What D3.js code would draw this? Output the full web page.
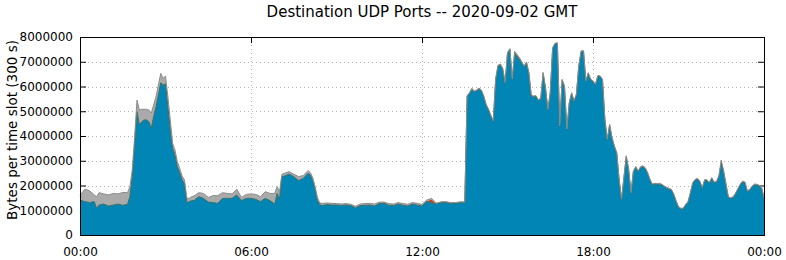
<!DOCTYPE html>
<html><head><meta charset="utf-8">
<script src="https://cdn.jsdelivr.net/npm/d3@7"></script>
<style>
body{margin:0;background:#fff}
svg{display:block}
text{font-family:"DejaVu Sans",sans-serif;fill:#000}
</style>
</head><body>
<svg id="chart" width="786" height="260"></svg>
<script>
// ---- data (values in millions of bytes per 300 s slot) ----
const times = [
 "00:00","00:10","00:20","00:30","00:35","00:40","00:50",
 "01:00","01:10","01:20","01:30","01:40","01:45","01:50","01:55",
 "02:00","02:05","02:10","02:15","02:20","02:25","02:30","02:35","02:40","02:45","02:50","02:55",
 "03:00","03:05","03:10","03:15","03:20","03:25","03:30","03:35","03:40","03:45","03:50","03:55",
 "04:00","04:10","04:20","04:30","04:40","04:50",
 "05:00","05:10","05:20","05:30","05:40","05:50",
 "06:00","06:10","06:20","06:30","06:40","06:50","06:55",
 "07:00","07:05","07:10","07:20","07:30","07:40","07:50",
 "08:00","08:05","08:10","08:15","08:20","08:25","08:30","08:40","08:50",
 "09:00","09:10","09:20","09:30","09:40","09:50",
 "10:00","10:10","10:20","10:30","10:40","10:50",
 "11:00","11:10","11:20","11:30","11:40","11:50",
 "12:00","12:10","12:20","12:30","12:40","12:50",
 "13:00","13:10","13:20","13:30","13:35","13:40","13:45","13:50","13:55",
 "14:00","14:05","14:10","14:15","14:20","14:25","14:30","14:35","14:40","14:45","14:50","14:55",
 "15:00","15:05","15:10","15:15","15:20","15:25","15:30","15:35","15:40","15:45","15:50","15:55",
 "16:00","16:05","16:10","16:15","16:20","16:25","16:30","16:35","16:40","16:45","16:50","16:55",
 "17:00","17:05","17:10","17:15","17:20","17:25","17:30","17:35","17:40","17:45","17:50","17:55",
 "18:00","18:05","18:10","18:15","18:20","18:25","18:30","18:35","18:40","18:45","18:50","18:55",
 "19:00","19:05","19:10","19:15","19:20","19:25","19:30","19:35","19:40","19:45","19:50","19:55",
 "20:00","20:05","20:10","20:15","20:20","20:25","20:30","20:35","20:40","20:45","20:50","20:55",
 "21:00","21:05","21:10","21:15","21:20","21:25","21:30","21:35","21:40","21:45","21:50","21:55",
 "22:00","22:05","22:10","22:15","22:20","22:25","22:30","22:35","22:40","22:45","22:50","22:55",
 "23:00","23:05","23:10","23:15","23:20","23:25","23:30","23:35","23:40","23:45","23:50","23:55",
 "24:00"
];
const mainPort = [
 1.41,1.35,1.31,1.35,1.08,1.21,1.25,
 1.17,1.21,1.25,1.20,1.24,1.55,2.36,3.70,
 4.98,4.44,4.58,4.65,4.65,4.58,4.31,4.78,5.18,5.66,6.15,6.06,
 6.10,5.18,4.24,3.50,3.23,2.76,2.52,2.22,2.09,1.31,1.35,1.39,
 1.39,1.55,1.48,1.33,1.31,1.28,
 1.48,1.48,1.48,1.62,1.39,1.48,
 1.48,1.44,1.35,1.48,1.39,1.25,1.68,
 1.45,2.35,2.38,2.46,2.36,2.20,2.29,
 2.49,2.42,2.20,1.85,1.40,1.22,1.19,1.23,1.21,
 1.21,1.20,1.21,1.19,1.10,1.19,
 1.20,1.21,1.17,1.27,1.28,1.20,
 1.19,1.25,1.20,1.17,1.25,1.21,
 1.17,1.36,1.30,1.25,1.31,1.31,
 1.28,1.27,1.31,1.30,5.60,5.72,5.89,5.79,5.83,
 5.91,5.82,5.59,5.25,5.05,4.81,4.58,6.26,6.83,6.88,6.69,6.13,
 7.34,7.50,6.26,7.34,7.21,7.10,6.96,6.80,6.96,6.53,5.62,5.59,
 5.59,5.43,5.50,6.53,5.93,5.05,5.72,7.54,7.72,7.74,4.38,6.26,
 5.99,4.24,5.32,5.72,5.39,5.66,6.80,7.41,7.41,6.20,6.53,6.26,
 6.20,6.06,6.40,6.40,6.26,4.65,3.84,4.44,3.91,3.57,3.30,2.22,
 1.41,2.29,3.17,2.63,1.68,2.56,2.73,2.56,2.73,2.76,2.69,2.49,
 2.22,2.02,2.06,2.05,2.05,2.02,1.95,1.89,1.85,1.82,1.62,1.35,
 1.12,1.05,1.05,1.21,1.32,1.68,2.09,2.22,2.25,2.15,1.89,2.20,
 2.20,2.09,2.29,2.11,2.13,2.36,2.92,2.56,2.02,1.51,1.48,1.51,
 1.66,1.85,2.02,2.15,2.11,1.75,1.82,1.95,2.02,2.02,1.98,1.89,
 1.48
];
const otherPorts = [
 .18,.50,.48,.27,.47,.50,.41,
 .45,.47,.41,.52,.47,.40,.27,.27,
 .47,.61,.50,.43,.43,.47,.61,.47,.41,.40,.38,.27,
 .32,.41,.41,.20,.20,.20,.17,.16,.13,.17,.13,.16,
 .19,.16,.20,.19,.28,.31,
 .23,.20,.18,.23,.13,.16,
 .18,.20,.20,.27,.29,.43,.27,
 .30,.10,.11,.10,.10,.16,.11,
 .11,.10,.12,.10,.10,.07,.09,.06,.07,
 .06,.05,.06,.05,.06,.06,
 .07,.07,.08,.06,.05,.07,
 .06,.06,.07,.07,.06,.07,
 .07,.05,.04,.04,.03,.04,
 .03,.04,.03,.04,.03,.03,.04,.03,.03,
 .03,.04,.03,.03,.04,.03,.03,.04,.03,.03,.04,.03,
 .03,.03,.04,.03,.03,.03,.04,.03,.03,.04,.03,.03,
 .04,.03,.03,.04,.03,.03,.04,.03,.03,.03,.04,.03,
 .03,.04,.03,.03,.04,.03,.03,.03,.04,.03,.03,.04,
 .03,.03,.04,.03,.03,.04,.03,.03,.04,.03,.03,.03,
 .04,.03,.03,.04,.03,.03,.04,.03,.03,.04,.03,.03,
 .03,.04,.03,.03,.04,.03,.03,.04,.03,.03,.04,.03,
 .03,.03,.04,.03,.03,.04,.03,.03,.04,.03,.03,.04,
 .03,.04,.03,.03,.04,.03,.03,.03,.04,.03,.03,.04,
 .03,.03,.04,.03,.03,.04,.03,.03,.04,.03,.03,.03,
 .03
];
const redSpikes = [["12:20",0.14],["15:15",0.05],["15:20",0.06],["15:25",0.04],["22:30",0.08]];
const yTickValues = [0,1000000,2000000,3000000,4000000,5000000,6000000,7000000,8000000];
const xTickMinutes = [0,360,720,1080,1440];
const xTickLabels = ["00:00","06:00","12:00","18:00","00:00"];
const titleText = "Destination UDP Ports -- 2020-09-02 GMT";
const yLabelText = "Bytes per time slot (300 s)";

// ---- build table ----
const toMin = s => { const [h,m] = s.split(":").map(Number); return h*60+m; };
const redMap = new Map(redSpikes.map(([t,v]) => [t,v]));
const table = times.map((t,i) => ({
  t: toMin(t),
  main: mainPort[i]*1e6,
  red: (redMap.get(t) || 0)*1e6,
  other: otherPorts[i]*1e6
}));

const L=80, R=764, T=37, B=235;
const svg = d3.select("#chart");
svg.append("rect").attr("width",786).attr("height",260).attr("fill","#fff");
const x = d3.scaleLinear().domain([0,1440]).range([L,R]);
const y = d3.scaleLinear().domain([0,8000000]).range([B,T]);

// grid
const grid = svg.append("g").attr("stroke","#b4b4b4").attr("stroke-dasharray","1,3").attr("shape-rendering","crispEdges");
grid.selectAll(".h").data(yTickValues.filter(v=>v>0 && v<8000000)).join("line")
  .attr("x1",L).attr("x2",R).attr("y1",d=>Math.round(y(d))+0.5).attr("y2",d=>Math.round(y(d))+0.5);
grid.selectAll(".v").data(xTickMinutes.filter(v=>v>0 && v<1440)).join("line")
  .attr("y1",T).attr("y2",B).attr("x1",d=>Math.round(x(d))+0.5).attr("x2",d=>Math.round(x(d))+0.5);

// axes (inward ticks, drawn behind the data)
const fmt = (d,i)=>xTickLabels[i];
const ax = svg.append("g").attr("transform",`translate(0,${B})`)
  .call(d3.axisBottom(x).tickValues(xTickMinutes).tickFormat(fmt).tickSizeInner(-6).tickSizeOuter(0).tickPadding(12));
const ay = svg.append("g").attr("transform",`translate(${L},0)`)
  .call(d3.axisLeft(y).tickValues(yTickValues).tickFormat(d3.format("d")).tickSizeInner(-6).tickSizeOuter(0).tickPadding(7));
const at = svg.append("g").attr("transform",`translate(0,${T})`)
  .call(d3.axisTop(x).tickValues(xTickMinutes).tickFormat("").tickSizeInner(-6).tickSizeOuter(0));
const ar = svg.append("g").attr("transform",`translate(${R},0)`)
  .call(d3.axisRight(y).tickValues(yTickValues).tickFormat("").tickSizeInner(-6).tickSizeOuter(0));
[ax,ay,at,ar].forEach(g=>{
  g.select(".domain").remove();
  g.selectAll(".tick line").attr("stroke","#000");
  g.selectAll("text").attr("font-family","DejaVu Sans").attr("font-size",12).attr("fill","#000");
});

// stacked areas
const keys = ["main","red","other"];
const colors = {main:"#0085b4", red:"#c0452a", other:"#aaaaaa"};
const edge = {main:"#3a6c66", red:"#a03a20", other:"#8c8c8c"};
const series = d3.stack().keys(keys)(table);
const area = d3.area().x(d=>x(d.data.t)).y0(d=>y(d[0])).y1(d=>y(d[1]));
const topLine = d3.line().x(d=>x(d.data.t)).y(d=>y(d[1]));
svg.append("g").selectAll("path").data(series).join("path")
  .attr("d",area).attr("fill",d=>colors[d.key]);
svg.append("g").selectAll("path").data(series.filter(s=>s.key!=="red")).join("path")
  .attr("d",topLine).attr("fill","none").attr("stroke",d=>edge[d.key]).attr("stroke-width",1);

// frame
svg.append("rect").attr("x",L+0.5).attr("y",T+0.5).attr("width",R-L).attr("height",B-T)
  .attr("fill","none").attr("stroke","#000").attr("stroke-width",1).attr("shape-rendering","crispEdges");

// texts
svg.append("text").attr("x",422).attr("y",17).attr("text-anchor","middle").attr("font-size",15).text(titleText);
svg.append("text").attr("transform","translate(17,130) rotate(-90)").attr("text-anchor","middle").attr("font-size",13.5).text(yLabelText);
</script>
</body></html>
